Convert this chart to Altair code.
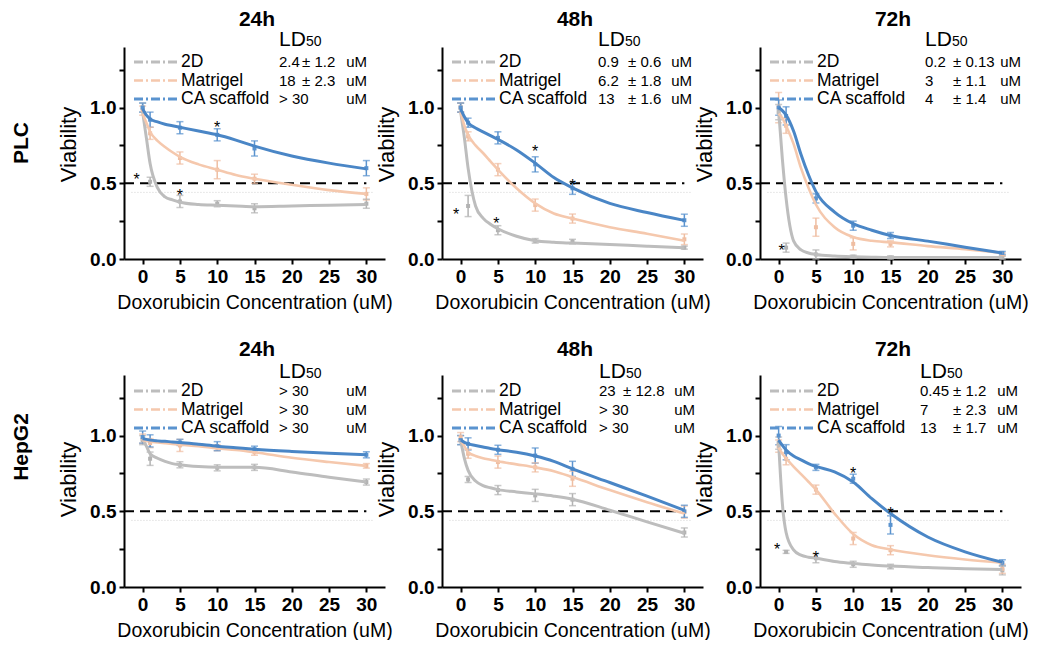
import altair as alt
import pandas as pd

FONT = "Liberation Sans"

# ---------------- data ----------------
conc = [0, 1, 5, 10, 15, 30]
curve_x = [0, 0.5, 1, 2, 3, 4, 5, 7.5, 10, 12.5, 15, 20, 25, 30]
series_names = ["2D", "Matrigel", "CA scaffold"]
time_titles = ["24h", "48h", "72h"]
cell_lines = ["PLC", "HepG2"]
x_ticks = [0, 5, 10, 15, 20, 25, 30]
y_ticks = [0, 0.25, 0.5, 0.75, 1.0, 1.25]
ld50_level = 0.5
faint_level = 0.44

# PLC 24h
plc24_2d_mean = [1.0, 0.51, 0.38, 0.365, 0.335, 0.365]
plc24_2d_err = [0.03, 0.03, 0.04, 0.02, 0.03, 0.03]
plc24_mat_mean = [0.98, 0.83, 0.667, 0.59, 0.53, 0.43]
plc24_mat_err = [0.03, 0.04, 0.04, 0.06, 0.03, 0.04]
plc24_ca_mean = [1.0, 0.92, 0.867, 0.82, 0.73, 0.60]
plc24_ca_err = [0.03, 0.05, 0.04, 0.04, 0.05, 0.05]
plc24_2d_curve = [0.97, 0.80, 0.63, 0.47, 0.41, 0.39, 0.375, 0.36, 0.355, 0.35, 0.345, 0.35, 0.355, 0.36]
plc24_mat_curve = [0.96, 0.90, 0.84, 0.78, 0.74, 0.705, 0.675, 0.625, 0.59, 0.555, 0.53, 0.49, 0.455, 0.43]
plc24_ca_curve = [0.99, 0.95, 0.925, 0.905, 0.89, 0.88, 0.87, 0.845, 0.82, 0.785, 0.745, 0.68, 0.633, 0.595]
plc24_star_x = [-0.8, 5, 10]
plc24_star_y = [0.545, 0.44, 0.89]
plc24_ld_val = ["2.4", "18", "> 30"]
plc24_ld_err = ["± 1.2", "± 2.3", ""]

# PLC 48h
plc48_2d_mean = [1.0, 0.35, 0.19, 0.12, 0.115, 0.075]
plc48_2d_err = [0.03, 0.07, 0.03, 0.015, 0.015, 0.01]
plc48_mat_mean = [1.0, 0.81, 0.59, 0.356, 0.267, 0.13]
plc48_mat_err = [0.03, 0.03, 0.04, 0.04, 0.03, 0.035]
plc48_ca_mean = [1.0, 0.90, 0.80, 0.625, 0.467, 0.256]
plc48_ca_err = [0.03, 0.03, 0.04, 0.05, 0.04, 0.04]
plc48_2d_curve = [0.97, 0.80, 0.60, 0.35, 0.27, 0.23, 0.20, 0.15, 0.12, 0.11, 0.105, 0.095, 0.085, 0.075]
plc48_mat_curve = [0.97, 0.88, 0.82, 0.75, 0.70, 0.645, 0.59, 0.467, 0.367, 0.30, 0.267, 0.21, 0.167, 0.12]
plc48_ca_curve = [0.99, 0.94, 0.90, 0.865, 0.84, 0.815, 0.79, 0.72, 0.633, 0.538, 0.47, 0.367, 0.307, 0.255]
plc48_star_x = [-0.6, 4.8, 10, 15]
plc48_star_y = [0.32, 0.256, 0.73, 0.51]
plc48_ld_val = ["0.9", "6.2", "13"]
plc48_ld_err = ["± 0.6", "± 1.8", "± 1.6"]

# PLC 72h
plc72_2d_mean = [0.97, 0.075, 0.03, 0.015, 0.01, 0.01]
plc72_2d_err = [0.05, 0.03, 0.03, 0.01, 0.01, 0.01]
plc72_mat_mean = [1.0, 0.88, 0.21, 0.10, 0.10, 0.03]
plc72_mat_err = [0.1, 0.05, 0.06, 0.04, 0.02, 0.01]
plc72_ca_mean = [1.0, 0.945, 0.40, 0.22, 0.155, 0.04]
plc72_ca_err = [0.05, 0.06, 0.03, 0.03, 0.02, 0.01]
plc72_2d_curve = [0.98, 0.66, 0.40, 0.12, 0.06, 0.04, 0.03, 0.02, 0.015, 0.012, 0.01, 0.01, 0.01, 0.01]
plc72_mat_curve = [0.96, 0.93, 0.88, 0.76, 0.60, 0.47, 0.36, 0.21, 0.145, 0.12, 0.11, 0.085, 0.065, 0.04]
plc72_ca_curve = [1.0, 0.98, 0.95, 0.845, 0.69, 0.556, 0.445, 0.31, 0.233, 0.19, 0.155, 0.118, 0.078, 0.04]
plc72_star_x = [0.4]
plc72_star_y = [0.078]
plc72_ld_val = ["0.2", "3", "4"]
plc72_ld_err = ["± 0.13", "± 1.1", "± 1.4"]

# HepG2 24h
hep24_2d_mean = [0.97, 0.847, 0.807, 0.787, 0.79, 0.693]
hep24_2d_err = [0.03, 0.044, 0.02, 0.02, 0.02, 0.02]
hep24_mat_mean = [0.98, 0.95, 0.935, 0.92, 0.89, 0.80]
hep24_mat_err = [0.03, 0.03, 0.04, 0.02, 0.02, 0.015]
hep24_ca_mean = [0.99, 0.965, 0.955, 0.93, 0.91, 0.873]
hep24_ca_err = [0.04, 0.04, 0.02, 0.03, 0.02, 0.02]
hep24_2d_curve = [0.98, 0.93, 0.88, 0.85, 0.83, 0.815, 0.807, 0.795, 0.79, 0.79, 0.79, 0.76, 0.725, 0.693]
hep24_mat_curve = [0.97, 0.965, 0.96, 0.955, 0.95, 0.945, 0.94, 0.93, 0.915, 0.905, 0.89, 0.853, 0.825, 0.80]
hep24_ca_curve = [0.98, 0.975, 0.97, 0.965, 0.962, 0.958, 0.955, 0.943, 0.93, 0.92, 0.91, 0.895, 0.883, 0.873]
hep24_star_x = []
hep24_star_y = []
hep24_ld_val = ["> 30", "> 30", "> 30"]
hep24_ld_err = ["", "", ""]

# HepG2 48h
hep48_2d_mean = [0.97, 0.71, 0.64, 0.605, 0.577, 0.36]
hep48_2d_err = [0.03, 0.02, 0.03, 0.04, 0.04, 0.03]
hep48_mat_mean = [0.99, 0.88, 0.825, 0.79, 0.715, 0.495]
hep48_mat_err = [0.03, 0.03, 0.04, 0.03, 0.05, 0.04]
hep48_ca_mean = [0.97, 0.945, 0.906, 0.868, 0.78, 0.50]
hep48_ca_err = [0.03, 0.04, 0.03, 0.05, 0.05, 0.04]
hep48_2d_curve = [0.97, 0.85, 0.77, 0.70, 0.67, 0.655, 0.643, 0.628, 0.615, 0.60, 0.58, 0.507, 0.43, 0.355]
hep48_mat_curve = [0.97, 0.93, 0.89, 0.865, 0.85, 0.84, 0.83, 0.81, 0.79, 0.765, 0.726, 0.64, 0.56, 0.485]
hep48_ca_curve = [0.97, 0.955, 0.945, 0.935, 0.925, 0.915, 0.907, 0.89, 0.865, 0.83, 0.78, 0.69, 0.60, 0.507]
hep48_star_x = []
hep48_star_y = []
hep48_ld_val = ["23", "> 30", "> 30"]
hep48_ld_err = ["± 12.8", "", ""]

# HepG2 72h
hep72_2d_mean = [0.95, 0.232, 0.19, 0.15, 0.135, 0.11]
hep72_2d_err = [0.04, 0.01, 0.03, 0.02, 0.015, 0.03]
hep72_mat_mean = [0.93, 0.847, 0.643, 0.32, 0.243, 0.12]
hep72_mat_err = [0.04, 0.04, 0.03, 0.04, 0.03, 0.03]
hep72_ca_mean = [1.0, 0.89, 0.79, 0.715, 0.41, 0.16]
hep72_ca_err = [0.06, 0.05, 0.02, 0.03, 0.06, 0.02]
hep72_2d_curve = [0.95, 0.55, 0.36, 0.245, 0.21, 0.197, 0.19, 0.168, 0.156, 0.145, 0.138, 0.128, 0.12, 0.116]
hep72_mat_curve = [0.92, 0.88, 0.85, 0.795, 0.745, 0.695, 0.643, 0.485, 0.35, 0.276, 0.248, 0.21, 0.182, 0.16]
hep72_ca_curve = [0.97, 0.935, 0.905, 0.865, 0.84, 0.815, 0.796, 0.76, 0.693, 0.583, 0.485, 0.33, 0.232, 0.163]
hep72_star_x = [-0.2, 5, 10, 15]
hep72_star_y = [0.27, 0.22, 0.77, 0.51]
hep72_ld_val = ["0.45", "7", "13"]
hep72_ld_err = ["± 1.2", "± 2.3", "± 1.7"]

PANELS = [
    dict(mean=[plc24_2d_mean, plc24_mat_mean, plc24_ca_mean], err=[plc24_2d_err, plc24_mat_err, plc24_ca_err],
         curve=[plc24_2d_curve, plc24_mat_curve, plc24_ca_curve], sx=plc24_star_x, sy=plc24_star_y,
         ldv=plc24_ld_val, lde=plc24_ld_err),
    dict(mean=[plc48_2d_mean, plc48_mat_mean, plc48_ca_mean], err=[plc48_2d_err, plc48_mat_err, plc48_ca_err],
         curve=[plc48_2d_curve, plc48_mat_curve, plc48_ca_curve], sx=plc48_star_x, sy=plc48_star_y,
         ldv=plc48_ld_val, lde=plc48_ld_err),
    dict(mean=[plc72_2d_mean, plc72_mat_mean, plc72_ca_mean], err=[plc72_2d_err, plc72_mat_err, plc72_ca_err],
         curve=[plc72_2d_curve, plc72_mat_curve, plc72_ca_curve], sx=plc72_star_x, sy=plc72_star_y,
         ldv=plc72_ld_val, lde=plc72_ld_err),
    dict(mean=[hep24_2d_mean, hep24_mat_mean, hep24_ca_mean], err=[hep24_2d_err, hep24_mat_err, hep24_ca_err],
         curve=[hep24_2d_curve, hep24_mat_curve, hep24_ca_curve], sx=hep24_star_x, sy=hep24_star_y,
         ldv=hep24_ld_val, lde=hep24_ld_err),
    dict(mean=[hep48_2d_mean, hep48_mat_mean, hep48_ca_mean], err=[hep48_2d_err, hep48_mat_err, hep48_ca_err],
         curve=[hep48_2d_curve, hep48_mat_curve, hep48_ca_curve], sx=hep48_star_x, sy=hep48_star_y,
         ldv=hep48_ld_val, lde=hep48_ld_err),
    dict(mean=[hep72_2d_mean, hep72_mat_mean, hep72_ca_mean], err=[hep72_2d_err, hep72_mat_err, hep72_ca_err],
         curve=[hep72_2d_curve, hep72_mat_curve, hep72_ca_curve], sx=hep72_star_x, sy=hep72_star_y,
         ldv=hep72_ld_val, lde=hep72_ld_err),
]

# ---------------- styling / layout ----------------
W, H = 261, 212
LINE_COLORS = ["#bdbdbd", "#f5c8ad", "#4a86c6"]
PT_COLORS = ["#b3b3b3", "#efbea2", "#5a93cf"]
LINE_WIDTHS = [3, 2.6, 3]
# text column positions (px from plot left): value, error, unit(right edge)
LD_COLS = [(155, 178, 243), (156, 186, 250), (165, 193, 261),
           (155, 0, 243), (157, 181, 253), (160, 193, 258)]
ROW_TEXT_Y = [(15, 33.5, 52), (16, 34.5, 53)]
LD_HEAD_Y = [-1, 3]
TITLE_Y = [-21, -19]
ROW_LABEL_Y = [96, 72]
VIAB_Y = [97, 104]
LD_SIZE = 15

xscale = alt.Scale(domain=[-2.5, 32.5], nice=False, zero=False)
yscale = alt.Scale(domain=[0, 1.4], nice=False, zero=False)
xaxis = alt.Axis(values=x_ticks, title="Doxorubicin Concentration (uM)", grid=False,
                 labelFont=FONT, labelFontSize=19, labelFontWeight="bold", labelColor="black",
                 labelPadding=3, labelFlush=False, labelOverlap=False,
                 tickSize=5, tickWidth=2, tickColor="black", domainColor="black", domainWidth=2,
                 titleFont=FONT, titleFontSize=19.5, titleFontWeight="normal", titleColor="black",
                 titlePadding=7)


def make_yaxis(row):
    return alt.Axis(values=y_ticks, title="Viability", grid=False,
                    labelExpr="datum.value % 0.5 == 0 ? format(datum.value, '.1f') : ''",
                    labelFont=FONT, labelFontSize=19, labelFontWeight="bold", labelColor="black",
                    labelPadding=3, labelFlush=False, labelOverlap=False,
                    tickSize=5, tickWidth=2, tickColor="black", domainColor="black", domainWidth=2,
                    titleFont=FONT, titleFontSize=22, titleFontWeight="normal", titleColor="black",
                    titlePadding=9, titleY=VIAB_Y[row])


one = pd.DataFrame({"k": [0]})


def txt(text, x, y, size, weight="normal", align="left", baseline="middle", angle=0):
    return alt.Chart(one).mark_text(text=text, font=FONT, fontSize=size, fontWeight=weight,
                                    align=align, baseline=baseline, angle=angle,
                                    color="black").encode(x=alt.value(x), y=alt.value(y))


def build_panel(i):
    p = PANELS[i]
    row, col = divmod(i, 3)
    yaxis = make_yaxis(row)

    def X(f):
        return alt.X(f, type="quantitative", scale=xscale, axis=xaxis)

    def Y(f):
        return alt.Y(f, type="quantitative", scale=yscale, axis=yaxis)

    rows = []
    for s, name in enumerate(series_names):
        for c, m, e in zip(conc, p["mean"][s], p["err"][s]):
            rows.append({"series": name, "conc": c, "mean": m, "lo": m - e, "hi": m + e})
    pts = pd.DataFrame(rows)
    color = alt.Color("series:N", scale=alt.Scale(domain=series_names, range=PT_COLORS), legend=None)

    layers = []
    faint = pd.DataFrame({"x1": [-1.5], "x2": [31.0], "y": [faint_level]})
    layers.append(alt.Chart(faint).mark_rule(color="#d0d0d0", strokeDash=[1, 2], strokeWidth=1)
                  .encode(x=X("x1"), x2="x2", y=Y("y")))
    dash = pd.DataFrame({"x1": [-2.5], "x2": [30.0], "y": [ld50_level]})
    layers.append(alt.Chart(dash).mark_rule(color="black", strokeDash=[10, 6], strokeWidth=2)
                  .encode(x=X("x1"), x2="x2", y=Y("y")))

    base = alt.Chart(pts)
    layers.append(base.mark_rule(strokeWidth=1.5).encode(x=X("conc"), y=Y("lo"), y2="hi", color=color))
    layers.append(base.mark_tick(orient="horizontal", size=7, thickness=1.5).encode(x=X("conc"), y=Y("lo"), color=color))
    layers.append(base.mark_tick(orient="horizontal", size=7, thickness=1.5).encode(x=X("conc"), y=Y("hi"), color=color))
    layers.append(base.mark_square(size=16, opacity=1).encode(x=X("conc"), y=Y("mean"), color=color))

    for s, name in enumerate(series_names):
        cdf = pd.DataFrame({"cx": curve_x, "cy": p["curve"][s]})
        layers.append(alt.Chart(cdf).mark_line(color=LINE_COLORS[s], strokeWidth=LINE_WIDTHS[s],
                                               interpolate="monotone")
                      .encode(x=X("cx"), y=Y("cy")))

    if p["sx"]:
        sdf = pd.DataFrame({"sx": p["sx"], "sy": p["sy"]})
        layers.append(alt.Chart(sdf).mark_text(text="*", font=FONT, fontSize=16, color="black", dy=4)
                      .encode(x=X("sx"), y=Y("sy")))

    # legend
    ys = ROW_TEXT_Y[row]
    for s, name in enumerate(series_names):
        layers.append(alt.Chart(one).mark_rule(color=LINE_COLORS[s] if s < 2 else PT_COLORS[s],
                                               strokeWidth=LINE_WIDTHS[s], strokeDash=[9, 3, 2, 3])
                      .encode(x=alt.value(10), x2=alt.value(55), y=alt.value(ys[s])))
        layers.append(txt(name, 57, ys[s], 17.5))

    # LD50 block
    cv, ce, cu = LD_COLS[i]
    layers.append(txt("LD", cv, LD_HEAD_Y[row], 21, baseline="alphabetic"))
    layers.append(txt("50", cv + 27, LD_HEAD_Y[row], 14, baseline="alphabetic"))
    for r in range(3):
        layers.append(txt(p["ldv"][r], cv, ys[r], LD_SIZE))
        if p["lde"][r]:
            layers.append(txt(p["lde"][r], ce, ys[r], LD_SIZE))
        layers.append(txt("uM", cu, ys[r], LD_SIZE, align="right"))

    layers.append(txt(time_titles[col], 133, TITLE_Y[row], 21, weight="bold", align="center",
                      baseline="alphabetic"))
    if col == 0:
        layers.append(txt(cell_lines[row], -102, ROW_LABEL_Y[row], 21, weight="bold",
                          align="center", angle=270))

    return alt.layer(*layers).properties(width=W, height=H)


chart = alt.concat(*[build_panel(i) for i in range(6)], columns=3,
                   spacing={"row": 116, "column": 57}, bounds="flush")
chart = chart.properties(padding={"left": 3, "top": 1, "right": 0, "bottom": 0},
                         background="white").configure_view(stroke=None)

chart.save("out.html", embed_options={"renderer": "svg", "actions": False})
